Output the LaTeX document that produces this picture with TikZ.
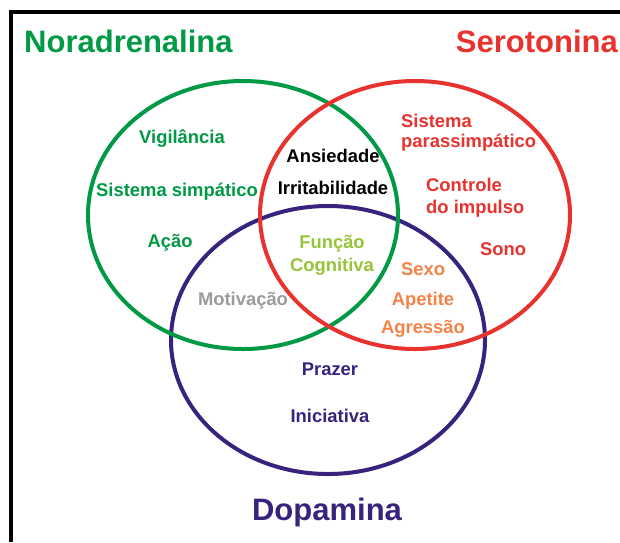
\documentclass[tikz,border=0pt]{standalone}
\usepackage{fontspec}
\setmainfont{Liberation Sans}
\usetikzlibrary{shapes.geometric,positioning}

\definecolor{nora}{RGB}{0,153,68}
\definecolor{sero}{RGB}{232,50,46}
\definecolor{dopa}{RGB}{55,35,125}
\definecolor{laranja}{RGB}{243,130,70}
\definecolor{lima}{RGB}{150,196,55}
\definecolor{cinza}{RGB}{155,155,155}

\begin{document}
\begin{tikzpicture}[x=1pt, y=-1pt, node distance={30pt},
	ring/.style = {draw, ellipse, line width=4pt, minimum width=310pt, minimum height=268pt, inner sep=0pt},
	lbl/.style = {font=\fontsize{18.4}{20}\selectfont\bfseries, inner sep=0pt, text height=13pt, text depth=4pt},
	head/.style = {font=\fontsize{31}{34}\selectfont\bfseries, inner sep=0pt}]
		\useasboundingbox (0,0) rectangle (620,542);
		\draw[line width=4pt] (11,542) -- (11,12) -- (620,12);
		% os tres conjuntos
		\node[ring, draw=dopa, minimum width=314pt] (dop) at (328,340) {};
		\node[ring, draw=nora] (nor) at (243,215) {};
		\node[ring, draw=sero] (ser) at (415,215) {};
		% noradrenalina
		\node[lbl, nora] (vig) at (182,138.5) {Vigilância};
		\node[lbl, nora] (simp) at (177,191.5) {Sistema simpático};
		\node[lbl, nora] (acao) at (170,242.5) {Ação};
		\node[lbl] (ans) at (333,157.5) {Ansiedade};
		\node[lbl] (irr) [below of=ans, node distance=32pt] {Irritabilidade};
		\node[lbl, lima] (func) at (332,243.5) {Função};
		\node[lbl, lima] (cog) [below of=func, node distance=23pt] {Cognitiva};
		\node[lbl, cinza] (mot) at (243,300.5) {Motivação};
		% serotonina
		\node[lbl, sero, anchor=base west] (sis) at (401,127) {Sistema};
		\node[lbl, sero, anchor=base west] (par) at (401,147) {parassimpático};
		\node[lbl, sero, anchor=base west] (ctl) at (426,191) {Controle};
		\node[lbl, sero, anchor=base west] (imp) at (426,213) {do impulso};
		\node[lbl, sero] (sono) at (503,250.5) {Sono};
		\node[lbl, laranja] (sexo) at (423,270.5) {Sexo};
		\node[lbl, laranja] (apet) [below of=sexo] {Apetite};
		\node[lbl, laranja] (agr) [below of=apet, node distance=28pt] {Agressão};
		% dopamina
		\node[lbl, dopa] (praz) at (330,370.5) {Prazer};
		\node[lbl, dopa] (inic) [below of=praz, node distance=47pt] {Iniciativa};
		% titulos
		\node[head, nora, anchor=base west] (tnor) at (24,52) {Noradrenalina};
		\node[head, sero, anchor=base east] (tser) at (618,52) {Serotonina};
		\node[head, dopa, anchor=base] (tdop) at (327,520) {Dopamina};
\end{tikzpicture}
\end{document}
